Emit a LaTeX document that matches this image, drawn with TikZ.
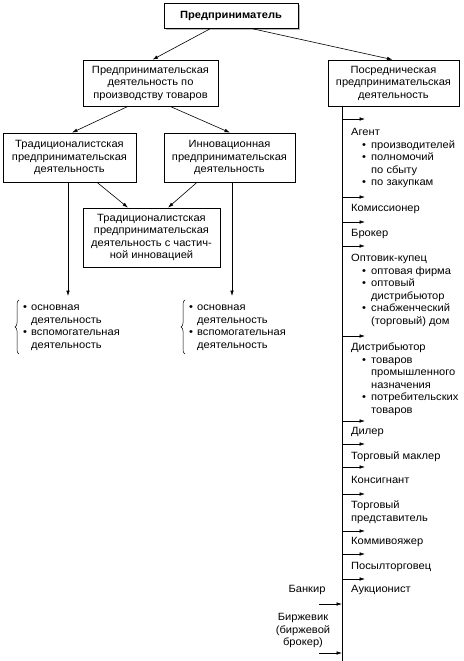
\documentclass[tikz,border=0pt]{standalone}
\usepackage{fontspec}
\setmainfont{Liberation Sans}[FakeStretch=1.06]
\usetikzlibrary{arrows.meta,calc,decorations.pathreplacing,shadows}
\newcommand\bi{\hspace*{11pt}\makebox[9pt][l]{\textbullet}}
\newcommand\ci{\hspace*{20pt}}
\newcommand\lb{\makebox[8pt][l]{\textbullet}}
\newcommand\li{\hspace*{8pt}}
\begin{document}
\begin{tikzpicture}[x=1pt,y=-1pt,
  every node/.style={font=\fontsize{10.5}{12.5}\selectfont, inner sep=0pt},
  box/.style={draw, line width=0.7pt, align=center, fill=white},
  arr/.style={-{Latex[length=5.5pt,width=3.6pt]}, line width=0.6pt},
  lbl/.style={anchor=base west},
  vline/.style={line width=0.7pt}
]
\useasboundingbox (0,0) rectangle (463,661);

% boxes
\node[box, minimum width=134pt, minimum height=25pt,
      drop shadow={shadow xshift=2pt, shadow yshift=-2pt, fill=gray!55, opacity=1}]
      (top) at (231,16) {\textbf{Предприниматель}};
\node[box, minimum width=135pt, minimum height=46pt] (prod) at (150.5,83)
      {Предпринимательская\\деятельность по\\производству товаров};
\node[box, minimum width=131pt, minimum height=46pt] (posr) at (393.5,83)
      {Посредническая\\предпринимательская\\деятельность};
\node[box, minimum width=133pt, minimum height=49pt] (trad) at (69.5,157.5)
      {Традиционалистская\\предпринимательская\\деятельность};
\node[box, minimum width=131pt, minimum height=49pt] (innov) at (229.5,157.5)
      {Инновационная\\предпринимательская\\деятельность};
\node[box, minimum width=137pt, minimum height=59pt] (mix) at (151.5,237.5)
      {Традиционалистская\\предпринимательская\\деятельность с частич-\\ной инновацией};

% arrows between boxes
\draw[arr] ($(top.south)+(-21,0)$) -- ($(prod.north)+(2,0)$);
\draw[arr] ($(top.south)+(22,0)$) -- ($(posr.north)+(-1,0)$);
\draw[arr] ($(prod.south)+(-22.5,0)$) -- ($(trad.north)+(2.5,0)$);
\draw[arr] ($(prod.south)+(19.5,0)$) -- ($(innov.north)+(0.5,0)$);
\draw[arr] ($(trad.south)+(27.5,0)$) -- ($(mix.north)+(-23.5,0)$);
\draw[arr] ($(innov.south)+(-32.5,0)$) -- ($(mix.north)+(16.5,0)$);
\coordinate (tl) at (68,296);
\coordinate (il) at (232,296);
\draw[arr] (trad.south -| tl) -- (tl);
\draw[arr] (innov.south -| il) -- (il);

% left lists with braces
\draw[line width=0.5pt, decorate, decoration={brace, amplitude=4pt}] (19,354) -- (19,300);
\node[lbl] (listL) at (23,310.5) {\begin{tabular}[t]{@{}l@{}}\lb основная\\ \li деятельность\\ \lb вспомогательная\\ \li деятельность\end{tabular}};
\draw[line width=0.5pt, decorate, decoration={brace, amplitude=4pt}] (185,354) -- (185,300);
\node[lbl] (listR) at (189,310.5) {\begin{tabular}[t]{@{}l@{}}\lb основная\\ \li деятельность\\ \lb вспомогательная\\ \li деятельность\end{tabular}};

% right column
\coordinate (vb) at (342,661);
\draw[vline] (posr.south -| vb) -- (vb);
\foreach \y in {119,197,222,246,336,421,444,467,494,531,554,579}
  \draw[arr] (342,\y) -- ++(23,0);

\node[lbl] (agent) at (351,135.5) {\begin{tabular}[t]{@{}l@{}}Агент\\ \bi производителей\\ \bi полномочий\\ \ci по сбыту\\ \bi по закупкам\end{tabular}};
\node[lbl] (komis) at (351,211.5) {Комиссионер};
\node[lbl] (broker) at (351,236.5) {Брокер};
\node[lbl] (optov) at (351,261.5) {\begin{tabular}[t]{@{}l@{}}Оптовик-купец\\ \bi оптовая фирма\\ \bi оптовый\\ \ci дистрибьютор\\ \bi снабженческий\\ \ci (торговый) дом\end{tabular}};
\node[lbl] (distr) at (351,350.5) {\begin{tabular}[t]{@{}l@{}}Дистрибьютор\\ \bi товаров\\ \ci промышленного\\ \ci назначения\\ \bi потребительских\\ \ci товаров\end{tabular}};
\node[lbl] (diler) at (351,434.5) {Дилер};
\node[lbl] (makler) at (351,459.5) {Торговый маклер};
\node[lbl] (konsig) at (351,483.5) {Консигнант};
\node[lbl] (predst) at (351,508.5) {\begin{tabular}[t]{@{}l@{}}Торговый\\ представитель\end{tabular}};
\node[lbl] (kommi) at (351,544.5) {Коммивояжер};
\node[lbl] (posyl) at (351,569.5) {Посылторговец};
\node[lbl] (aukc) at (351,592.5) {Аукционист};

\node[anchor=base] (bank) at (307,592.5) {Банкир};
\node[anchor=base] (birzh) at (303,620.5) {\begin{tabular}[t]{@{}c@{}}Биржевик\\(биржевой\\брокер)\end{tabular}};
\coordinate (bk) at (319,604);
\coordinate (bz) at (319,653);
\draw[arr] (bk) -- (bk -| vb);
\draw[arr] (bz) -- (bz -| vb);
\end{tikzpicture}
\end{document}
